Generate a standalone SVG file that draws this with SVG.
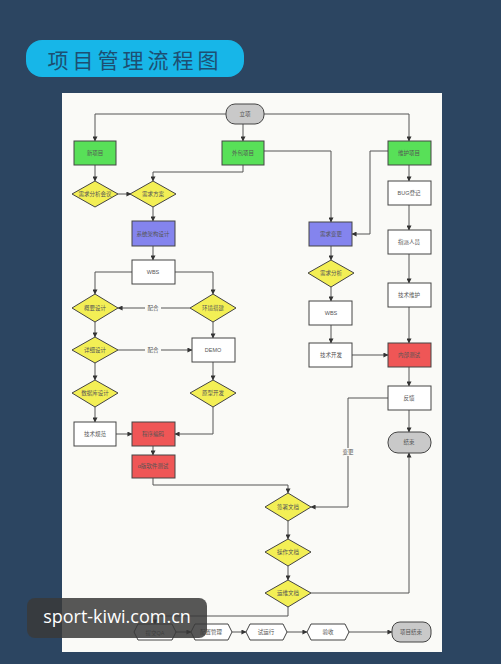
<svg xmlns="http://www.w3.org/2000/svg" width="501" height="664" viewBox="0 0 501 664">
<defs>
<style>
.t{font-family:"Liberation Sans","Noto Sans CJK SC",sans-serif;font-size:5.5px;fill:#555;text-anchor:middle;dominant-baseline:central}
.n{stroke:#444;stroke-width:1}
.g{fill:#58e058}.y{fill:#f3ef55}.p{fill:#8484ee}.r{fill:#ef5656}.w{fill:#fff}.s{fill:#c9c9c9}
.c path{fill:none;stroke:#555;stroke-width:1;marker-end:url(#a)}
</style>
<marker id="a" viewBox="0 0 6 6" refX="5.5" refY="3" markerWidth="5" markerHeight="5" orient="auto"><path d="M0,0L6,3L0,6z" fill="#333"/></marker>
</defs>
<rect width="501" height="664" fill="#2c4561"/>
<g id="title">
<rect x="26" y="40" width="218" height="37" rx="16" fill="#17b6e8"/>
<text x="135" y="59" font-family="'Noto Sans CJK SC',sans-serif" font-size="21" fill="#1d4f72" text-anchor="middle" dominant-baseline="central" letter-spacing="4">项目管理流程图</text>
</g>
<rect x="62" y="93" width="380" height="559" fill="#fafaf7"/>
<g class="c">
<path d="M226,114H95V141"/>
<path d="M243,124V141"/>
<path d="M264,114H409V141"/>
<path d="M95,165V181"/>
<path d="M118,194H131"/>
<path d="M243,165V172H153V181"/>
<path d="M264,151H331V222"/>
<path d="M388,151H370V234H352"/>
<path d="M153,207V221"/>
<path d="M153,246V260"/>
<path d="M132,272H95V294"/>
<path d="M175,272H213V294"/>
<path d="M190,308H118"/>
<path d="M95,322V337"/>
<path d="M118,350H192"/>
<path d="M213,322V338"/>
<path d="M95,363V380"/>
<path d="M213,362V380"/>
<path d="M95,407V422"/>
<path d="M116,434H132"/>
<path d="M213,407V434H175"/>
<path d="M153,446V455"/>
<path d="M153,478V485H288V493"/>
<path d="M331,246V260"/>
<path d="M331,287V301"/>
<path d="M331,325V343"/>
<path d="M352,355H388"/>
<path d="M409,165V181"/>
<path d="M409,205V230"/>
<path d="M409,254V283"/>
<path d="M409,307V343"/>
<path d="M409,367V386"/>
<path d="M409,410V432"/>
<path d="M388,398H348V507H311"/>
<path d="M288,521V539"/>
<path d="M288,566V580"/>
<path d="M311,593H409V453"/>
<path d="M288,607V616H155V624"/>
<path d="M176,632H191"/>
<path d="M232,632H246"/>
<path d="M287,632H307"/>
<path d="M349,632H392"/>
</g>
<g id="labels">
<rect x="145" y="304" width="16" height="8" fill="#fafaf7"/><text class="t" x="153" y="308">配合</text>
<rect x="145" y="346" width="16" height="8" fill="#fafaf7"/><text class="t" x="153" y="350">配合</text>
<rect x="341" y="448" width="14" height="8" fill="#fafaf7"/><text class="t" x="348" y="452">变更</text>
</g>
<g id="start"><rect class="n s" x="226" y="104" width="38" height="20" rx="9"/><text class="t" x="245" y="114">立项</text></g>
<g id="g1"><rect class="n g" x="74" y="141" width="42" height="24"/><text class="t" x="95" y="153">新项目</text></g>
<g id="g2"><rect class="n g" x="222" y="141" width="42" height="24"/><text class="t" x="243" y="153">外包项目</text></g>
<g id="g3"><rect class="n g" x="388" y="141" width="43" height="24"/><text class="t" x="409" y="153">维护项目</text></g>
<g id="d1"><path class="n y" d="M95,181L118,194L95,207L72,194z"/><text class="t" x="95" y="194">需求分析会议</text></g>
<g id="d2"><path class="n y" d="M153,181L176,194L153,207L130,194z"/><text class="t" x="153" y="194">需求方案</text></g>
<g id="p1"><rect class="n p" x="132" y="221" width="43" height="25"/><text class="t" x="153" y="234">系统架构设计</text></g>
<g id="wbs1"><rect class="n w" x="132" y="260" width="43" height="24"/><text class="t" x="153" y="272">WBS</text></g>
<g id="d3"><path class="n y" d="M95,294L118,308L95,322L72,308z"/><text class="t" x="95" y="308">概要设计</text></g>
<g id="d4"><path class="n y" d="M213,294L236,308L213,322L190,308z"/><text class="t" x="213" y="308">环境搭建</text></g>
<g id="d5"><path class="n y" d="M95,337L118,350L95,363L72,350z"/><text class="t" x="95" y="350">详细设计</text></g>
<g id="demo"><rect class="n w" x="192" y="338" width="43" height="24"/><text class="t" x="213" y="350">DEMO</text></g>
<g id="d6"><path class="n y" d="M95,380L118,393L95,407L72,393z"/><text class="t" x="95" y="393">数据库设计</text></g>
<g id="d7"><path class="n y" d="M213,380L236,393L213,407L190,393z"/><text class="t" x="213" y="393">原型开发</text></g>
<g id="spec"><rect class="n w" x="74" y="422" width="42" height="24"/><text class="t" x="95" y="434">技术规范</text></g>
<g id="r1"><rect class="n r" x="132" y="422" width="43" height="24"/><text class="t" x="153" y="434">程序编码</text></g>
<g id="r2"><rect class="n r" x="132" y="455" width="43" height="23"/><text class="t" x="153" y="466">α版软件测试</text></g>
<g id="p2"><rect class="n p" x="309" y="222" width="43" height="24"/><text class="t" x="331" y="234">需求变更</text></g>
<g id="d8"><path class="n y" d="M331,260L354,273L331,287L308,273z"/><text class="t" x="331" y="273">需求分析</text></g>
<g id="wbs2"><rect class="n w" x="309" y="301" width="43" height="24"/><text class="t" x="331" y="313">WBS</text></g>
<g id="dev"><rect class="n w" x="309" y="343" width="43" height="24"/><text class="t" x="331" y="355">技术开发</text></g>
<g id="bug"><rect class="n w" x="388" y="181" width="43" height="24"/><text class="t" x="409" y="193">BUG登记</text></g>
<g id="assign"><rect class="n w" x="388" y="230" width="43" height="24"/><text class="t" x="409" y="242">指派人员</text></g>
<g id="maint"><rect class="n w" x="388" y="283" width="43" height="24"/><text class="t" x="409" y="295">技术维护</text></g>
<g id="r3"><rect class="n r" x="388" y="343" width="43" height="24"/><text class="t" x="409" y="355">内部测试</text></g>
<g id="fb"><rect class="n w" x="388" y="386" width="43" height="24"/><text class="t" x="409" y="398">反馈</text></g>
<g id="end1"><rect class="n s" x="388" y="432" width="43" height="21" rx="10"/><text class="t" x="409" y="442">结束</text></g>
<g id="d9"><path class="n y" d="M288,493L311,507L288,521L265,507z"/><text class="t" x="288" y="507">签署文档</text></g>
<g id="d10"><path class="n y" d="M288,539L311,552L288,566L265,552z"/><text class="t" x="288" y="552">操作文档</text></g>
<g id="d11"><path class="n y" d="M288,580L311,593L288,607L265,593z"/><text class="t" x="288" y="593">运维文档</text></g>
<g id="h1"><path class="n w" d="M138,624H172L176,632L172,640H138L134,632z"/><text class="t" x="155" y="633">提交QA</text></g>
<g id="h2"><path class="n w" d="M195,624H228L232,632L228,640H195L191,632z"/><text class="t" x="211" y="632">配置管理</text></g>
<g id="h3"><path class="n w" d="M250,624H283L287,632L283,640H250L246,632z"/><text class="t" x="266" y="632">试运行</text></g>
<g id="h4"><path class="n w" d="M311,624H345L349,632L345,640H311L307,632z"/><text class="t" x="328" y="632">验收</text></g>
<g id="end2"><rect class="n s" x="392" y="622" width="39" height="20" rx="8"/><text class="t" x="411" y="632">项目结束</text></g>
<g id="watermark">
<rect x="27" y="598" width="180" height="40" rx="8" fill="#3a3a3a" fill-opacity="0.85"/>
<text x="117" y="616" font-family="'Open Sans','Liberation Sans',sans-serif" font-size="18" fill="#fff" text-anchor="middle" dominant-baseline="central">sport-kiwi.com.cn</text>
</g>
</svg>
